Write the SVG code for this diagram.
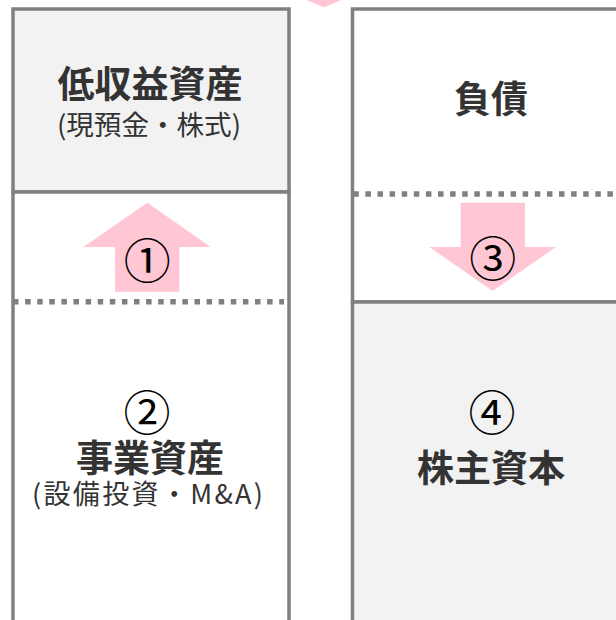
<svg xmlns="http://www.w3.org/2000/svg" width="616" height="620" viewBox="0 0 616 620">
<style>
.box{stroke:#808080;stroke-width:3.5}
.gray{fill:#f2f2f2}
.white{fill:#ffffff}
.dot{stroke:#808080;stroke-width:5.5;stroke-dasharray:5.5 6.6;fill:none}
.arrow{fill:#ffc6d3}
.title{font-family:"Noto Sans CJK JP","Noto Sans",sans-serif;font-weight:bold;font-size:37px;fill:#333333;text-anchor:middle}
.sub{font-family:"Noto Sans CJK JP","Noto Sans",sans-serif;font-size:27px;fill:#333333;text-anchor:middle}
.num{font-family:"Noto Sans CJK JP","Noto Sans",sans-serif;font-size:47px;fill:#000000;text-anchor:middle}
</style>
<rect width="616" height="620" fill="#ffffff"/>
<polygon class="arrow" points="306,0 341,0 324,7.3"/>
<g id="node-low-yield-assets">
<rect class="box gray" x="13" y="9" width="276" height="183"/>
<text class="title" x="150" y="97.7">低収益資産</text>
<text class="sub" x="149" y="134.5" textLength="184" lengthAdjust="spacingAndGlyphs">(現預金・株式)</text>
</g>
<g id="node-business-assets">
<rect class="box white" x="13" y="192" width="276" height="500"/>
<line class="dot" x1="13" y1="301.7" x2="284" y2="301.7"/>
<text class="num" x="147" y="429.5">②</text>
<text class="title" x="150" y="472.4">事業資産</text>
<text class="sub" x="147.5" y="503.5" textLength="231" lengthAdjust="spacing">(設備投資・M&amp;A)</text>
</g>
<g id="node-liabilities">
<rect class="box white" x="352.5" y="9" width="276" height="293"/>
<line class="dot" x1="353.3" y1="194" x2="616" y2="194"/>
<text class="title" x="491" y="113.3">負債</text>
</g>
<g id="node-equity">
<rect class="box gray" x="352.5" y="302" width="276" height="400"/>
<text class="num" x="492" y="429.5">④</text>
<text class="title" x="491" y="482.4">株主資本</text>
</g>
<g id="connectors">
<polygon class="arrow" points="147.3,202.7 210.7,247 179.3,247 179.3,291.7 115,291.7 115,247 83.3,247"/>
<text class="num" x="147.3" y="277.5">①</text>
<polygon class="arrow" points="460.7,202.7 525,202.7 525,247 556,247 492.7,291 429.3,247 460.7,247"/>
<text class="num" x="492.7" y="275.5">③</text>
</g>
</svg>
